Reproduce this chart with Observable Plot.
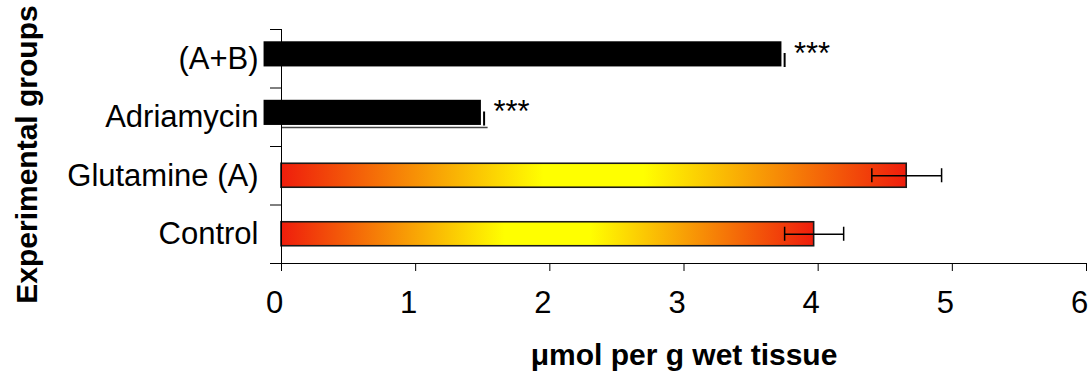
<!DOCTYPE html>
<html><head><meta charset="utf-8">
<script src="https://cdn.jsdelivr.net/npm/d3@7"></script>
<script src="https://cdn.jsdelivr.net/npm/@observablehq/plot@0.6"></script>
<style>body{margin:0;background:#fff} svg{display:block}</style>
</head><body><div id="chart"></div>
<script>
const groups = ["Control", "Glutamine (A)", "Adriamycin", "(A+B)"];
const means = [3.97, 4.66, 1.49, 3.73];
const sems = [0.22, 0.26, null, null];
const stars = ["", "", "***", "***"];
const masked = [false, false, true, true];
const underline = [null, null, 1.54, null];
const xTicks = [0, 1, 2, 3, 4, 5, 6];
const xTitle = "μmol per g wet tissue";
const yTitle = "Experimental groups";

const rows = groups.map((g, i) => ({group: g, i, mean: means[i], sem: sems[i], star: stars[i], masked: masked[i], under: underline[i]}));
const plain = rows.filter(d => !d.masked);
const black = rows.filter(d => d.masked);
const under = rows.filter(d => d.under != null);
const font = "'Liberation Sans', Arial, sans-serif";
const fs = 31;
const fsTitle = 30;

const plot = Plot.plot({
  width: 1089, height: 377,
  marginLeft: 281, marginRight: 3, marginTop: 29, marginBottom: 114,
  style: {fontFamily: font, fontSize: fs + "px", color: "#000", background: "#fff", overflow: "visible"},
  x: {domain: [0, 6]},
  y: {domain: [0, 4]},
  marks: [
    Plot.axisX({ticks: xTicks, tickSize: 8, tickFormat: () => "", label: null}),
    Plot.axisX({ticks: xTicks, tickSize: 0, tickPadding: 27, dx: -7, fontSize: fs, tickFormat: d => String(d), label: null}),
    Plot.axisY({ticks: [0, 1, 2, 3, 4], tickSize: 11, tickFormat: () => "", label: null}),
    Plot.axisY({ticks: [0.5, 1.5, 2.5, 3.5], tickSize: 0, tickPadding: 23, fontSize: fs, tickFormat: v => groups[Math.floor(v)], label: null}),
    Plot.rect(plain, {x1: 0, x2: "mean", y1: d => d.i + 0.295, y2: d => d.i + 0.705, fill: "url(#fire)", stroke: "#1a1a1a", strokeWidth: 1.6}),
    Plot.ruleY(under, {y: d => d.i + 0.325, x1: 0, x2: "under", stroke: "#444", strokeWidth: 1.5}),
    Plot.rect(black, {x1: -0.13, x2: "mean", y1: d => d.i + 0.36, y2: d => d.i + 0.79, fill: "#000"}),
    Plot.ruleX(black, {x: d => d.mean + 0.02, y1: d => d.i + 0.35, y2: d => d.i + 0.59, stroke: "#000", strokeWidth: 2}),
    Plot.ruleY(plain, {y: d => d.i + 0.5, x1: d => d.mean - d.sem, x2: d => d.mean + d.sem, stroke: "#000", strokeWidth: 1.5}),
    Plot.ruleX(plain, {x: d => d.mean - d.sem, y1: d => d.i + 0.38, y2: d => d.i + 0.62, stroke: "#000", strokeWidth: 1.5}),
    Plot.ruleX(plain, {x: d => d.mean + d.sem, y1: d => d.i + 0.38, y2: d => d.i + 0.62, stroke: "#000", strokeWidth: 1.5}),
    Plot.text(black, {x: "mean", y: d => d.i + 0.5, text: "star", textAnchor: "start", dx: 12, dy: -5, lineAnchor: "middle", fontSize: fs}),
    Plot.ruleX([0], {y1: 0, y2: 4, stroke: "#000"}),
    Plot.ruleY([0], {x1: -0.08, x2: 6, stroke: "#000"}),
    Plot.text([xTitle], {text: d => d, frameAnchor: "bottom", dy: 92, textAnchor: "middle", lineAnchor: "middle", fontWeight: "bold", fontSize: fsTitle}),
    Plot.text([yTitle], {text: d => d, frameAnchor: "left", rotate: -90, dx: -254, dy: 8, textAnchor: "middle", lineAnchor: "middle", fontWeight: "bold", fontSize: fsTitle})
  ]
});

const defs = d3.select(plot).insert("defs", ":first-child");
const grad = defs.append("linearGradient").attr("id", "fire").attr("x1", 0).attr("x2", 1).attr("y1", 0).attr("y2", 0);
[[0, "#ef1d0c"], [0.42, "#ffff00"], [0.58, "#ffff00"], [1, "#ef1d0c"]].forEach(([o, c]) =>
  grad.append("stop").attr("offset", o).attr("stop-color", c));

document.getElementById("chart").append(plot);
</script>
</body></html>
